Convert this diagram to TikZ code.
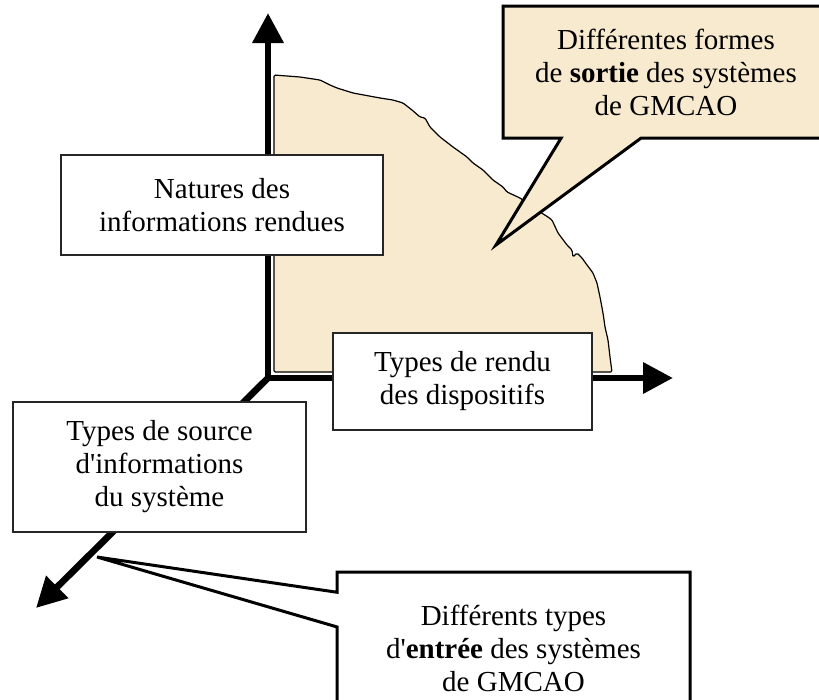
\documentclass[tikz,border=0pt]{standalone}
\usepackage{fontspec}
\setmainfont{Liberation Serif}[Ligatures=TeXOff]
\usetikzlibrary{arrows.meta,shapes.callouts}
\definecolor{parchment}{RGB}{248,234,206}
\tikzset{
  infobox/.style={draw=black!85, line width=1pt, fill=white, inner sep=0pt,
    align=center, font=\fontsize{21.75}{24.75}\selectfont},
  bubble/.style={rectangle callout, draw, line width=2.25pt, inner sep=0pt,
    align=center, font=\fontsize{21.75}{24.75}\selectfont},
  axis/.style={line width=5pt, -{Triangle[length=22.5pt,width=22.5pt]}},
}

\begin{document}
\begin{tikzpicture}[x=0.75pt,y=-0.75pt]
%define stuff
\def\pagew{819}
\def\pageh{700}
%set bounding box
\useasboundingbox (0,0) rectangle (\pagew,\pageh);
%shaded output area
\filldraw[fill=parchment, line width=0.9pt, rounded corners=1pt]
  (274,75) -- (300,77) -- (320,80) -- (330,85) -- (337,88) -- (353,93)
  -- (380,98) -- (393,100) -- (403,103) -- (412,110) -- (420,117)
  -- (425,118) -- (430,127) -- (440,137) -- (453,147) -- (467,157)
  -- (473,163) -- (483,170) -- (493,180) -- (503,187) -- (507,192)
  -- (520,198) -- (540,212) -- (548,217) -- (552,220) -- (558,233)
  -- (567,245) -- (572,250) -- (573,257) -- (577,253) -- (582,258)
  -- (587,265) -- (593,273) -- (597,283) -- (600,297) -- (603,313)
  -- (605,327) -- (608,340) -- (610,357) -- (612,372) -- (274,372) -- cycle;
%axes
\coordinate (origin) at (268,378);
\coordinate (ytip) at (268,13);
\coordinate (xtip) at (673,378);
\coordinate (ztip) at (36,608);
\draw[axis] (origin) -- (ytip);
\draw[axis] (origin) -- (xtip);
\draw[axis] (origin) -- (ztip);
%axis labels
\node[infobox, minimum width=241.5pt, minimum height=75pt] (natures)
  at (222,205) {Natures des\\informations rendues};
\node[infobox, minimum width=194.25pt, minimum height=72.75pt] (rendu)
  at (462.5,381.5) {Types de rendu\\des dispositifs};
\node[infobox, minimum width=219.75pt, minimum height=97.5pt] (source)
  at (159.5,467) {Types de source\\d'informations\\du système};
%callouts
\coordinate (sortiept) at (496,245);
\node[bubble, fill=parchment, minimum width=244.5pt, minimum height=99pt,
  callout absolute pointer={(sortiept)}, callout pointer width=60pt] (sortie)
  at (666,72) {Différentes formes\\de \textbf{sortie} des systèmes\\de GMCAO};
\coordinate (entreept) at (97,557);
\node[bubble, fill=white, minimum width=264.75pt, minimum height=114pt,
  callout absolute pointer={(entreept)}, callout pointer width=26pt] (entree)
  at (513.5,648) {Différents types\\d'\textbf{entrée} des systèmes\\de GMCAO};
\end{tikzpicture}
\end{document}
